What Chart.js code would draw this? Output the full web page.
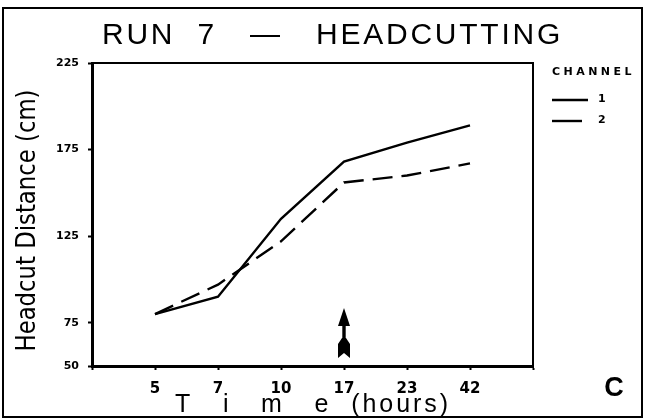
<!DOCTYPE html>
<html>
<head>
<meta charset="utf-8">
<script src="https://cdn.jsdelivr.net/npm/chart.js@4.4.1/dist/chart.umd.min.js"></script>
<style>
  html, body { margin: 0; padding: 0; background: #fff; }
</style>
</head>
<body>
<canvas id="myChart" width="645" height="420"></canvas>
<script>
const hours = ['5', '7', '10', '17', '23', '42'];
const channel1 = [80, 90, 135, 168, 179, 189];
const channel2 = [80, 97, 122, 156, 160, 167];
const yTicks = [50, 75, 125, 175, 225];
const markHour = '17';

// one empty slot at each end of the time axis
const labels = [''].concat(hours, ['']);
const pad = arr => [null].concat(arr, [null]);

// draws text stretched with letter spacing to fill a given width
function spacedText(ctx, text, left, y, width, font) {
  ctx.font = font;
  ctx.letterSpacing = '0px';
  const w0 = ctx.measureText(text).width;
  const ls = Math.max(0, (width - w0) / text.length);
  ctx.letterSpacing = ls + 'px';
  ctx.textAlign = 'left';
  ctx.fillText(text, left, y);
  ctx.letterSpacing = '0px';
}

const extras = {
  id: 'extras',
  afterDraw(chart) {
    const ctx = chart.ctx;
    const a = chart.chartArea;
    const xs = chart.scales.x;
    ctx.save();
    ctx.fillStyle = '#000';
    ctx.strokeStyle = '#000';

    // page frame
    ctx.lineWidth = 2;
    ctx.strokeRect(3, 8, 639, 409);

    // top and right edges of the plot box
    ctx.beginPath();
    ctx.moveTo(a.left, a.top);
    ctx.lineTo(a.right, a.top);
    ctx.lineTo(a.right, a.bottom);
    ctx.stroke();

    ctx.textBaseline = 'middle';

    // title
    spacedText(ctx, 'RUN  7   \u2014   HEADCUTTING', 102, 36, 461, '30px "Liberation Sans", Arial, sans-serif');

    // x axis title
    spacedText(ctx, 'T   i   m   e  (hours)', 175, 405, 276, '25px "Liberation Sans", Arial, sans-serif');

    // y axis title
    ctx.save();
    ctx.translate(28, (a.top + a.bottom) / 2 + 6);
    ctx.rotate(-Math.PI / 2);
    ctx.textAlign = 'center';
    ctx.font = '26px "DejaVu Sans Condensed", "Liberation Sans", sans-serif';
    ctx.fillText('Headcut Distance (cm)', 0, 0, 262);
    ctx.restore();

    // panel letter
    ctx.textAlign = 'center';
    ctx.font = 'bold 27px "Liberation Sans", Arial, sans-serif';
    ctx.fillText('C', 614, 389);

    // legend
    const lx = a.right + 19;
    spacedText(ctx, 'CHANNEL', lx, a.top + 9, 83, 'bold 11px "DejaVu Sans", sans-serif');
    chart.data.datasets.forEach((ds, i) => {
      const ly = a.top + 37 + i * 21;
      ctx.beginPath();
      ctx.lineWidth = 2.4;
      ctx.setLineDash(ds.borderDash && ds.borderDash.length ? [30, 6] : []);
      ctx.moveTo(lx, ly);
      ctx.lineTo(lx + 36, ly);
      ctx.stroke();
      ctx.setLineDash([]);
      ctx.font = 'bold 11px "DejaVu Sans", sans-serif';
      ctx.textAlign = 'left';
      ctx.fillText(ds.label, lx + 46, ly - 1);
    });

    // arrow marking the 17 hour reading
    const ax = xs.getPixelForValue(labels.indexOf(markHour));
    const b = a.bottom;
    ctx.beginPath();
    ctx.moveTo(ax, b - 58);
    ctx.lineTo(ax + 6, b - 40);
    ctx.lineTo(ax - 6, b - 40);
    ctx.closePath();
    ctx.fill();
    ctx.fillRect(ax - 1.7, b - 42, 3.4, 16);
    ctx.beginPath();
    ctx.moveTo(ax - 2, b - 28);
    ctx.lineTo(ax - 6, b - 22);
    ctx.lineTo(ax - 6, b - 8);
    ctx.lineTo(ax, b - 13);
    ctx.lineTo(ax + 6, b - 8);
    ctx.lineTo(ax + 6, b - 22);
    ctx.lineTo(ax + 2, b - 28);
    ctx.closePath();
    ctx.fill();

    ctx.restore();
  }
};

const ctx = document.getElementById('myChart').getContext('2d');

const myChart = new Chart(ctx, {
  type: 'line',
  data: {
    labels: labels,
    datasets: [{
      label: '1',
      data: pad(channel1),
      borderColor: '#000',
      borderWidth: 2.4,
      fill: false,
      tension: 0,
      pointRadius: 0
    }, {
      label: '2',
      data: pad(channel2),
      borderColor: '#000',
      borderWidth: 2.4,
      borderDash: [20, 9],
      fill: false,
      tension: 0,
      pointRadius: 0
    }]
  },
  options: {
    responsive: false,
    animation: false,
    devicePixelRatio: 1,
    layout: { padding: { left: 0, top: 63, right: 112, bottom: 0 } },
    plugins: {
      legend: { display: false },
      title: { display: false },
      tooltip: { enabled: false }
    },
    scales: {
      x: {
        type: 'category',
        offset: false,
        afterFit: s => { s.height = 54; },
        border: { color: '#000', width: 3 },
        grid: { drawOnChartArea: false, color: '#000', tickLength: 4, tickWidth: 2 },
        ticks: {
          color: '#000',
          padding: 10,
          maxRotation: 0,
          autoSkip: false,
          font: { family: '"DejaVu Sans", sans-serif', size: 15, weight: 'bold' }
        }
      },
      y: {
        min: 50,
        max: 225,
        afterFit: s => { s.width = 92; },
        afterBuildTicks: s => { s.ticks = yTicks.map(v => ({ value: v })); },
        border: { color: '#000', width: 3 },
        grid: { drawOnChartArea: false, color: '#000', tickLength: 4, tickWidth: 2 },
        ticks: {
          color: '#000',
          padding: 9,
          font: { family: '"DejaVu Sans", sans-serif', size: 11, weight: 'bold' }
        }
      }
    }
  },
  plugins: [extras]
});
</script>
</body>
</html>
